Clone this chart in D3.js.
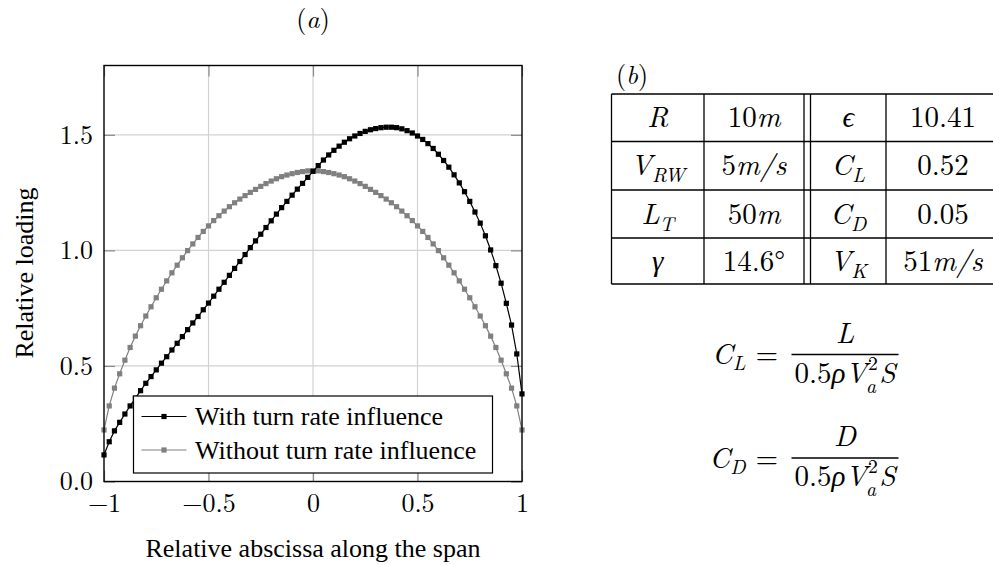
<!DOCTYPE html>
<html><head><meta charset="utf-8">
<script src="https://cdn.jsdelivr.net/npm/d3@7"></script>
</head>
<body style="margin:0;padding:0;background:#fff;">
<svg id="c" width="993" height="565" style="display:block;background:#fff"></svg>
<script>
const xs = [-1,-0.975,-0.95,-0.925,-0.9,-0.875,-0.85,-0.825,-0.8,-0.775,-0.75,-0.725,-0.7,-0.675,-0.65,-0.625,-0.6,-0.575,-0.55,-0.525,-0.5,-0.475,-0.45,-0.425,-0.4,-0.375,-0.35,-0.325,-0.3,-0.275,-0.25,-0.225,-0.2,-0.175,-0.15,-0.125,-0.1,-0.075,-0.05,-0.025,0,0.025,0.05,0.075,0.1,0.125,0.15,0.175,0.2,0.225,0.25,0.275,0.3,0.325,0.35,0.375,0.4,0.425,0.45,0.475,0.5,0.525,0.55,0.575,0.6,0.625,0.65,0.675,0.7,0.725,0.75,0.775,0.8,0.825,0.85,0.875,0.9,0.925,0.95,0.975,1];
const withTurn = [0.115,0.172,0.219,0.256,0.292,0.327,0.360,0.393,0.425,0.454,0.483,0.512,0.540,0.569,0.598,0.627,0.657,0.686,0.714,0.743,0.772,0.802,0.832,0.862,0.892,0.922,0.952,0.982,1.012,1.041,1.070,1.099,1.128,1.157,1.185,1.212,1.239,1.265,1.290,1.316,1.342,1.367,1.391,1.413,1.433,1.451,1.468,1.483,1.495,1.506,1.515,1.522,1.527,1.531,1.533,1.533,1.531,1.526,1.518,1.508,1.495,1.480,1.462,1.441,1.416,1.389,1.360,1.327,1.292,1.254,1.212,1.166,1.118,1.063,1.002,0.934,0.858,0.771,0.677,0.552,0.379];
const withoutTurn = [0.223,0.327,0.404,0.466,0.525,0.580,0.629,0.674,0.716,0.756,0.795,0.832,0.868,0.903,0.936,0.968,0.999,1.028,1.056,1.082,1.106,1.129,1.150,1.170,1.189,1.206,1.222,1.237,1.251,1.264,1.277,1.289,1.300,1.310,1.319,1.326,1.332,1.337,1.341,1.344,1.345,1.344,1.341,1.337,1.332,1.326,1.319,1.310,1.300,1.289,1.277,1.264,1.251,1.237,1.222,1.206,1.189,1.170,1.150,1.129,1.106,1.082,1.056,1.028,0.999,0.968,0.936,0.903,0.868,0.832,0.795,0.756,0.716,0.674,0.629,0.580,0.525,0.466,0.404,0.327,0.223];
const seriesNames = ["With turn rate influence","Without turn rate influence"];
const xTicks = [-1,-0.5,0,0.5,1];
const xTickLabels = ["\u22121","\u22120.5","0","0.5","1"];
const yTicks = [0,0.5,1,1.5];
const yTickLabels = ["0.0","0.5","1.0","1.5"];
const xLabel = "Relative abscissa along the span";
const yLabel = "Relative loading";
const panelA = "a", panelB = "b";
// table cells: segments [text, kind]  kind: i=italic, r=roman, g=greek italic, sub=italic subscript
const tableRows = [
  [[["R","i"]], [["10","r"],["m","i"]], [["\u03f5","g"]], [["10.41","r"]]],
  [[["V","i"],["RW","sub"]], [["5","r"],["m/s","i"]], [["C","i"],["L","sub"]], [["0.52","r"]]],
  [[["L","i"],["T","sub"]], [["50","r"],["m","i"]], [["C","i"],["D","sub"]], [["0.05","r"]]],
  [[["\u03b3","g"]], [["14.6\u00b0","r"]], [["V","i"],["K","sub"]], [["51","r"],["m/s","i"]]]
];
const formulaNum = ["L","D"];
const formulaSub = ["L","D"];

const TIMES = "Liberation Serif";
const CM = "Latin Modern Roman";
const GREEK = "Liberation Serif";
const FS = 26;   // plot text
const FT = 29;   // table and formula text

const svg = d3.select("#c");
const x = d3.scaleLinear().domain([-1,1]).range([104,522]);
const y = d3.scaleLinear().domain([0,1.8]).range([481.5,65.5]);

function T(sel, family, size){
  return sel.attr("font-family",family).style("font-family",`"${family}", Tinos, FreeSerif, serif`)
    .attr("font-size",size).style("fill","#000");
}

// grid
const g = svg.append("g");
g.selectAll(".gx").data(xTicks.slice(1,-1)).join("line")
  .attr("x1",d=>x(d)).attr("x2",d=>x(d)).attr("y1",y(0)).attr("y2",y(1.8))
  .attr("stroke","#d2d2d2").attr("stroke-width",1.2);
g.selectAll(".gy").data(yTicks.slice(1)).join("line")
  .attr("y1",d=>y(d)).attr("y2",d=>y(d)).attr("x1",x(-1)).attr("x2",x(1))
  .attr("stroke","#d2d2d2").attr("stroke-width",1.2);

// inner ticks on all sides
function tickAxis(axis, tr){
  const a = svg.append("g").attr("transform",tr).call(axis);
  a.select(".domain").remove();
  a.selectAll("line").attr("stroke","#8a8a8a").attr("stroke-width",1.2);
  a.selectAll("text").remove();
}
tickAxis(d3.axisBottom(x).tickValues(xTicks).tickSize(-11), `translate(0,${y(0)})`);
tickAxis(d3.axisTop(x).tickValues(xTicks).tickSize(-11), `translate(0,${y(1.8)})`);
tickAxis(d3.axisLeft(y).tickValues(yTicks).tickSize(-11), `translate(${x(-1)},0)`);
tickAxis(d3.axisRight(y).tickValues(yTicks).tickSize(-11), `translate(${x(1)},0)`);

// tick labels
const ax = svg.append("g").attr("transform",`translate(0,${y(0)})`)
  .call(d3.axisBottom(x).tickValues(xTicks).tickSize(0).tickPadding(12).tickFormat((d,i)=>xTickLabels[i]));
ax.select(".domain").remove();
T(ax.selectAll("text"), CM, FS);
const ay = svg.append("g").attr("transform",`translate(${x(-1)},0)`)
  .call(d3.axisLeft(y).tickValues(yTicks).tickSize(0).tickPadding(11).tickFormat((d,i)=>yTickLabels[i]));
ay.select(".domain").remove();
T(ay.selectAll("text"), CM, FS);

const colors = ["#000000","#808080"];
const data = [withTurn, withoutTurn];
const line = d3.line().x((d,i)=>x(xs[i])).y(d=>y(d));
const plot = svg.append("g");
[1,0].forEach(k=>{
  plot.append("path").datum(data[k]).attr("d",line).attr("fill","none")
    .attr("stroke",colors[k]).attr("stroke-width",1.2);
  plot.selectAll(".m"+k).data(data[k]).join("rect")
    .attr("x",(d,i)=>x(xs[i])-2.6).attr("y",d=>y(d)-2.6)
    .attr("width",5.2).attr("height",5.2).attr("fill",colors[k]);
});

// frame
svg.append("rect").attr("x",x(-1)).attr("y",y(1.8)).attr("width",x(1)-x(-1)).attr("height",y(0)-y(1.8))
  .attr("fill","none").attr("stroke","#000").attr("stroke-width",1.4);

// legend
const lg = svg.append("g");
lg.append("rect").attr("x",133.5).attr("y",396).attr("width",359).attr("height",77)
  .attr("fill","#fff").attr("stroke","#000").attr("stroke-width",1.2);
seriesNames.forEach((name,k)=>{
  const cy = 416.5 + k*33.5;
  lg.append("line").attr("x1",141.5).attr("x2",186.5).attr("y1",cy).attr("y2",cy)
    .attr("stroke",colors[k]).attr("stroke-width",1.2);
  lg.append("rect").attr("x",164-2.6).attr("y",cy-2.6).attr("width",5.2).attr("height",5.2).attr("fill",colors[k]);
  T(lg.append("text").attr("x",195).attr("y",cy+8.5), TIMES, FS).text(name);
});

// axis labels
T(svg.append("text").attr("x",313).attr("y",557).attr("text-anchor","middle"), TIMES, FS).text(xLabel);
T(svg.append("text").attr("transform",`translate(33,273) rotate(-90)`).attr("text-anchor","middle"), TIMES, FS).text(yLabel);

// panel titles
function panel(px,py,letter){
  const t = T(svg.append("text").attr("x",px).attr("y",py).attr("text-anchor","middle"), CM, FS);
  t.append("tspan").text("(");
  t.append("tspan").style("font-style","italic").text(letter);
  t.append("tspan").text(")");
}
panel(313,28,panelA);
panel(632,84,panelB);

// table
const colX = [611.5,704,804,810.5,886,1000];
const rowY = [94,141.5,190,238,284];
const cellCenters = [(colX[0]+colX[1])/2,(colX[1]+colX[2])/2,(colX[3]+colX[4])/2,(colX[4]+colX[5])/2];
const tb = svg.append("g");
rowY.forEach(ry=>tb.append("line").attr("x1",colX[0]).attr("x2",colX[5]).attr("y1",ry).attr("y2",ry).attr("stroke","#000").attr("stroke-width",1.3));
colX.forEach(cx=>tb.append("line").attr("x1",cx).attr("x2",cx).attr("y1",rowY[0]).attr("y2",rowY[4]).attr("stroke","#000").attr("stroke-width",1.3));
function segText(sel, segs){
  segs.forEach((s,j)=>{
    const ts = sel.append("tspan").text(s[0]);
    if(s[1]==="i") ts.style("font-style","italic");
    if(s[1]==="g") ts.style("font-style","italic").style("font-family",`"${GREEK}", Tinos, FreeSerif, serif`);
    if(s[1]==="sub"){ ts.style("font-style","italic").attr("font-size",FT*0.7).attr("dy",7); }
    else if(j>0 && segs[j-1][1]==="sub") ts.attr("dy",-7);
  });
}
tableRows.forEach((row,r)=>{
  row.forEach((cell,c)=>{
    const t = T(tb.append("text").attr("x",cellCenters[c]).attr("y",(rowY[r]+rowY[r+1])/2+9.5)
      .attr("text-anchor","middle"), CM, FT);
    segText(t, cell);
  });
});

// formulas: denominator pieces placed side by side from measured widths
const fy = [354.5, 458];
formulaNum.forEach((num,k)=>{
  const fg = svg.append("g");
  const by = fy[k];
  const lt = T(fg.append("text").attr("x",778).attr("y",by+9.5).attr("text-anchor","end"), CM, FT);
  lt.append("tspan").style("font-style","italic").text("C");
  lt.append("tspan").style("font-style","italic").attr("font-size",FT*0.7).attr("dy",6).text(formulaSub[k]);
  lt.append("tspan").attr("dy",-6).attr("dx",10).text("=");
  fg.append("line").attr("x1",791.5).attr("x2",898.5).attr("y1",by).attr("y2",by).attr("stroke","#000").attr("stroke-width",1.3);
  T(fg.append("text").attr("x",845).attr("y",by-12).attr("text-anchor","middle"), CM, FT)
    .style("font-style","italic").text(num);
  const base = by + 28;
  const parts = [
    {t:"0.5", fam:CM, it:false, fs:FT, dy:0},
    {t:"\u03c1", fam:GREEK, it:true, fs:FT, dy:0},
    {t:"V", fam:CM, it:true, fs:FT, dy:0},
    {t:"2", fam:CM, it:false, fs:FT*0.68, dy:-13},
    {t:"a", fam:CM, it:true, fs:FT*0.68, dy:10},
    {t:"S", fam:CM, it:true, fs:FT, dy:0}
  ];
  const els = parts.map(p=>{
    const e = T(fg.append("text").attr("y",base+p.dy), p.fam, p.fs).text(p.t);
    if(p.it) e.style("font-style","italic");
    return e;
  });
  const ws = els.map(e=>e.node().getComputedTextLength());
  const scr = Math.max(ws[3],ws[4]) + 2;
  const total = ws[0]+ws[1]+ws[2]+scr+ws[5];
  let cx = 845 - total/2;
  els[0].attr("x",cx); cx += ws[0];
  els[1].attr("x",cx); cx += ws[1];
  els[2].attr("x",cx); cx += ws[2];
  els[3].attr("x",cx+1);
  els[4].attr("x",cx-1); cx += scr;
  els[5].attr("x",cx);
});
</script>
</body></html>
